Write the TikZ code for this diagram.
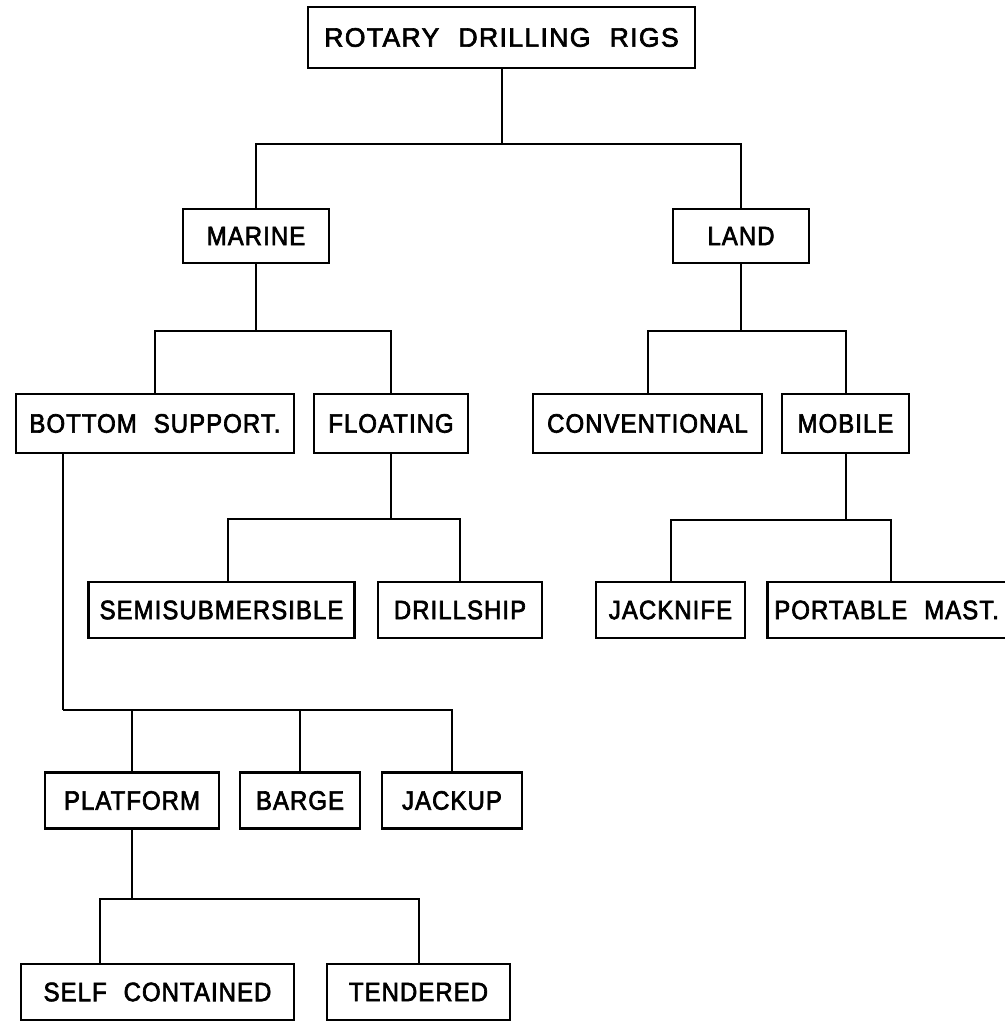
\documentclass[tikz,border=0pt]{standalone}
\usepackage{fontspec}
\setmainfont{Liberation Sans}[FakeStretch=0.9, FakeBold=2.5, LetterSpace=4, WordSpace=2.2]
\newfontfamily\rigtitle{Liberation Sans}[FakeBold=2.5, LetterSpace=5, WordSpace=2.2]
\usepackage{tikz}

\tikzset{
  rig/.style={draw, line width=1.3pt, inner sep=0pt, minimum height=28pt,
              font=\fontsize{13.3}{14}\selectfont},
  link/.style={line width=1pt}
}

\begin{document}
\begin{tikzpicture}[x=0.5pt, y=-0.5pt]

        \useasboundingbox (0,0) rectangle (1005,1022);
        \clip (0,0) rectangle (1005,1022);

        % top levels
        \node[rig, minimum width=193.5pt, minimum height=30.5pt] (rigs) at (501.5,37.5) {\rigtitle ROTARY DRILLING RIGS};
        \node[rig, minimum width=73pt, minimum height=27pt] (marine) at (256,236) {MARINE};
        \node[rig, minimum width=68pt, minimum height=27pt] (land) at (741,236) {LAND};

        \node[rig, minimum width=139pt, minimum height=29.5pt] (bsup) at (155,423.5) {BOTTOM SUPPORT.};
        \node[rig, minimum width=77pt, minimum height=29.5pt] (floating) at (391,423.5) {FLOATING};
        \node[rig, minimum width=114.5pt, minimum height=29.5pt] (conv) at (647.5,423.5) {CONVENTIONAL};
        \node[rig, minimum width=63.5pt, minimum height=29.5pt] (mobile) at (845.5,423.5) {MOBILE};

        \node[rig, minimum width=133pt] (semi) at (221.5,610) {SEMISUBMERSIBLE};
        \node[rig, minimum width=82pt] (dship) at (460,610) {DRILLSHIP};
        \node[rig, minimum width=74.5pt] (jknife) at (670.5,610) {JACKNIFE};
        \node[rig, inner xsep=3.5pt, anchor=west] (pmast) at (766,610) {PORTABLE MAST.};

        % bottom supported
        \node[rig, minimum width=87pt] (platform) at (132,800.5) {PLATFORM};
        \node[rig, minimum width=60pt] (barge) at (300,800.5) {BARGE};
        \node[rig, minimum width=70pt] (jackup) at (452,800.5) {JACKUP};

        \node[rig, minimum width=136.5pt] (selfc) at (157.5,992) {SELF CONTAINED};
        \node[rig, minimum width=91.5pt] (tender) at (418.5,992) {TENDERED};

        \draw[link] (rigs.south) -- ++(0,75) coordinate (b1);
        \draw[link] (marine.north) |- (b1) -| (land.north);

        \draw[link] (marine.south) -- ++(0,67) coordinate (b2);
        \draw[link] (bsup.north) |- (b2) -| (floating.north);

        \draw[link] (land.south) -- ++(0,67) coordinate (b3);
        \draw[link] (conv.north) |- (b3) -| (mobile.north);

        \draw[link] (floating.south) -- ++(0,65) coordinate (b4);
        \draw[link] ([xshift=3pt]semi.north) |- (b4) -| (dship.north);

        \draw[link] (mobile.south) -- ++(0,66) coordinate (b5);
        \draw[link] (jknife.north) |- (b5) -| (pmast.north -| 891,0);

        \draw[link] ([xshift=24pt]bsup.south west) -- ++(0,256) coordinate (b6);
        \draw[link] (b6) -| (jackup.north);
        \draw[link] (platform.north) -- (platform.north |- b6);
        \draw[link] (barge.north) -- (barge.north |- b6);

        \draw[link] (platform.south) -- ++(0,69) coordinate (b7);
        \draw[link] ([xshift=40pt]selfc.north west) |- (b7) -| (tender.north);

    \end{tikzpicture}
\end{document}
